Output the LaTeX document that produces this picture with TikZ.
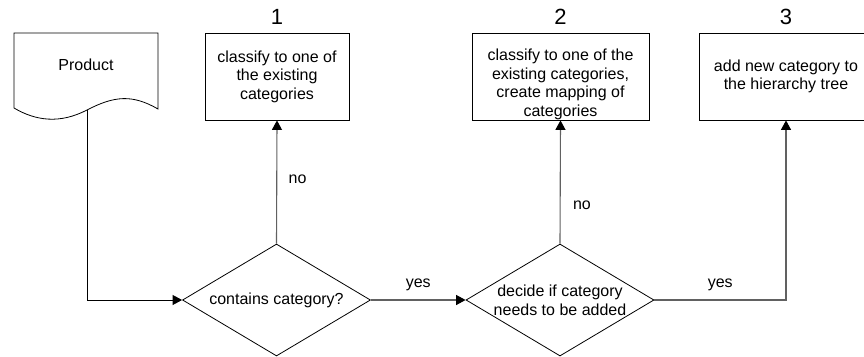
\documentclass[tikz,border=0pt]{standalone}
\usepackage{fontspec}
\setmainfont{Liberation Sans}
\usetikzlibrary{shapes.geometric,positioning,arrows.meta}
\colorlet{flowgray}{black!62}
\tikzset{
  procbox/.style={draw,line width=.8pt,minimum height=87pt,inner sep=0pt,align=center,font=\fontsize{16}{18.5}\selectfont},
  decision/.style={draw,diamond,line width=.8pt,minimum width=188pt,minimum height=112pt,aspect=1.68,inner sep=-8pt,align=center,font=\fontsize{16}{19}\selectfont},
  stepnum/.style={inner sep=0pt,font=\fontsize{22}{22}\selectfont},
  flow/.style={line width=1.1pt,flowgray,->},
  lbl/.style={text=black,font=\fontsize{16}{18}\selectfont}
}
\begin{document}
\begin{tikzpicture}[x=1pt,y=-1pt,>={Triangle[length=9.5pt,width=10pt,color=black]}]
\useasboundingbox (0,0) rectangle (864,356);
\draw[line width=.8pt] (14,33) -- (158,33) -- (158,109) .. controls (132,94) and (114,96) .. (87,110) .. controls (60,124) and (36,121) .. (14,108) -- cycle;
\node[lbl] (prod) at (86,65) {Product};
\coordinate (prodout) at (87,110);
\node[procbox,minimum width=144pt] (cls1) at (277,76.5) {classify to one of\\the existing\\categories};
\node[procbox,minimum width=177pt] (cls2) at (560.5,76.5) {\rule{0pt}{27.5pt}classify to one of the\\existing categories,\\create mapping of\\categories};
\node[procbox,minimum width=174pt] (addcat) at (786,76.5) {add new category to\\the hierarchy tree};
\node[stepnum,above=8pt of cls1] (num1) {1};
\node[stepnum,above=8pt of cls2] (num2) {2};
\node[stepnum,above=8pt of addcat] (num3) {3};
\node[decision] (dec1) at (276.5,300) {contains category?};
\node[decision] (dec2) at (560,300) {decide if category\\needs to be added};
\draw[flow,black,line width=.8pt] (prodout) |- (dec1.west);
\draw[flow] (dec1.north) -- node[lbl,pos=.52,right=8pt] {no} (cls1.south);
\draw[flow] (dec1.east) -- node[lbl,above=5pt] {yes} (dec2.west);
\draw[flow] (dec2.north) -- node[lbl,pos=.31,right=9pt] {no} (cls2.south);
\draw[flow] (dec2.east) -| node[lbl,pos=.25,above=5pt] {yes} (addcat.south);
\end{tikzpicture}
\end{document}
